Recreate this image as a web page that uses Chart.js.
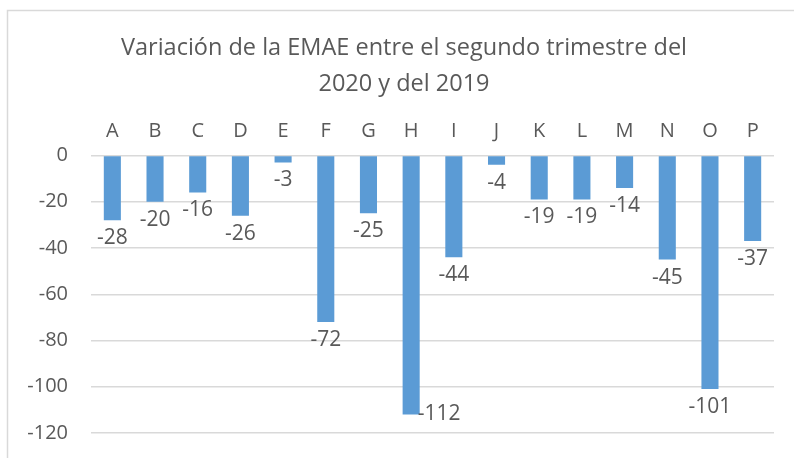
<!DOCTYPE html>
<html>
<head>
<meta charset="utf-8">
<script src="https://cdn.jsdelivr.net/npm/chart.js@4/dist/chart.umd.min.js"></script>
<style>
  html,body{margin:0;padding:0;background:#fff;}
  #wrap{width:794px;height:458px;position:relative;}
</style>
</head>
<body>
<div id="wrap"><canvas id="c" width="794" height="458"></canvas></div>
<script>
const titleLines = ["Variación de la EMAE entre el segundo trimestre del", "2020 y del 2019"];
const categories = ["A","B","C","D","E","F","G","H","I","J","K","L","M","N","O","P"];
const values = [-28,-20,-16,-26,-3,-72,-25,-112,-44,-4,-19,-19,-14,-45,-101,-37];
const yMin = -120, yMax = 0, yStep = 20;

const FONT = "'Open Sans', 'Noto Sans', sans-serif";
const TXT = "#595959";

const borderPlugin = {
  id: 'outerBorder',
  beforeDraw(chart) {
    const ctx = chart.ctx;
    ctx.save();
    ctx.fillStyle = '#fff';
    ctx.fillRect(0,0,chart.width,chart.height);
    ctx.strokeStyle = '#d9d9d9';
    ctx.lineWidth = 1.5;
    ctx.strokeRect(7.5, 10.5, chart.width + 20, chart.height + 20);
    ctx.restore();
  }
};

// centre the title over the plot + value-axis region (as in the original)
const titleShift = {
  id: 'titleShift',
  afterLayout(chart) {
    const t = chart.titleBlock;
    if (t) { t.left = chart.chartArea.left - 57; t.right = chart.chartArea.right; }
  }
};

const labelPlugin = {
  id: 'barLabels',
  afterDatasetsDraw(chart) {
    const ctx = chart.ctx;
    const meta = chart.getDatasetMeta(0);
    const area = chart.chartArea;
    ctx.save();
    ctx.font = "21px " + FONT;
    ctx.fillStyle = TXT;
    meta.data.forEach((bar, i) => {
      const txt = String(chart.data.datasets[0].data[i]);
      let x = bar.x, y = bar.y + 18;
      ctx.textBaseline = 'middle';
      if (y + 12 > area.bottom) {
        ctx.textAlign = 'left';
        x = bar.x + bar.width / 2 - 2;
        y = bar.y;
      } else {
        ctx.textAlign = 'center';
      }
      ctx.fillText(txt, x, y);
    });
    ctx.restore();
  }
};

new Chart(document.getElementById('c'), {
  type: 'bar',
  data: {
    labels: categories,
    datasets: [{
      data: values,
      backgroundColor: '#5B9BD5',
      borderWidth: 0,
      barPercentage: 0.4,
      categoryPercentage: 1.0
    }]
  },
  options: {
    responsive: false,
    animation: false,
    devicePixelRatio: 1,
    layout: { padding: { top: 31, right: 20, bottom: 25, left: 0 } },
    plugins: {
      legend: { display: false },
      tooltip: { enabled: false },
      title: {
        display: true,
        text: titleLines,
        color: TXT,
        font: { family: FONT, size: 23.5, weight: 'normal', lineHeight: 1.5 },
        padding: { top: 0, bottom: 6 }
      }
    },
    scales: {
      x: {
        position: 'top',
        grid: { display: false, drawTicks: false },
        border: { display: false },
        ticks: { color: TXT, font: { family: FONT, size: 20 }, padding: 12, maxRotation: 0 }
      },
      y: {
        min: yMin, max: yMax,
        grid: { color: '#d9d9d9', lineWidth: 1.5, drawTicks: false },
        border: { display: false },
        ticks: { stepSize: yStep, color: TXT, font: { family: FONT, size: 20 }, padding: 23 },
        afterFit(scale) { scale.width = 91; scale.paddingBottom = 12; scale.paddingTop = 12; }
      }
    }
  },
  plugins: [borderPlugin, titleShift, labelPlugin]
});
</script>
</body>
</html>
